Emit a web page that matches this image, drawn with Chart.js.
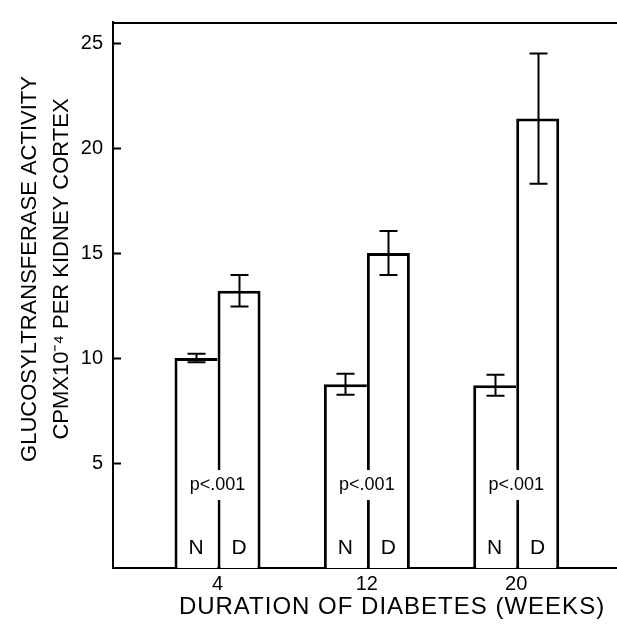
<!DOCTYPE html>
<html><head><meta charset="utf-8">
<script src="https://cdn.jsdelivr.net/npm/chart.js@4.4.1/dist/chart.umd.min.js"></script>
<style>html,body{margin:0;padding:0;background:#fff}#wrap{width:617px;height:630px;position:relative}</style>
</head><body><div id="wrap"><canvas id="c"></canvas></div>
<script>
const weeks = [4, 12, 20];
const normalMeans = [10.0, 8.75, 8.7];
const normalErr = [0.2, 0.5, 0.5];
const diabeticMeans = [13.2, 15.0, 21.4];
const diabeticErr = [0.75, 1.05, 3.1];
const yTicks = [5, 10, 15, 20, 25];
const groupLabels = ['N', 'D'];
const pLabel = 'p<.001';
const pLabelValue = 3.95;
const groupLabelValue = 0.95;
const xTitle = 'DURATION OF DIABETES (WEEKS)';
const yTitle = ['GLUCOSYLTRANSFERASE ACTIVITY', 'CPMX10\u207B\u2074 PER KIDNEY CORTEX'];

const FONT = '"Liberation Sans", Arial, Helvetica, sans-serif';

const decor = {
  id: 'decor',
  afterDatasetsDraw(chart) {
    const {ctx, chartArea: a, scales: {x, y}} = chart;
    ctx.save();
    ctx.strokeStyle = '#000';
    ctx.lineWidth = 2;
    [[0, normalMeans, normalErr], [1, diabeticMeans, diabeticErr]].forEach(([di, m, e]) => {
      chart.getDatasetMeta(di).data.forEach((bar, i) => {
        const yt = y.getPixelForValue(m[i] + e[i]);
        const yb = y.getPixelForValue(m[i] - e[i]);
        const cx = Math.round(bar.x) + 0.5, hw = 9;
        ctx.beginPath();
        ctx.moveTo(cx, yt); ctx.lineTo(cx, yb);
        ctx.moveTo(cx - hw, yt); ctx.lineTo(cx + hw, yt);
        ctx.moveTo(cx - hw, yb); ctx.lineTo(cx + hw, yb);
        ctx.stroke();
      });
    });
    // p-value labels
    ctx.font = '18px ' + FONT;
    ctx.textAlign = 'center';
    ctx.textBaseline = 'middle';
    weeks.forEach(w => {
      const cx = x.getPixelForValue(w), cy = y.getPixelForValue(pLabelValue);
      const tw = ctx.measureText(pLabel).width;
      ctx.fillStyle = '#fff';
      ctx.fillRect(cx - tw / 2 - 2, cy - 15, tw + 4, 30);
      ctx.fillStyle = '#000';
      ctx.fillText(pLabel, cx, cy);
    });
    // N / D labels
    ctx.font = '21px ' + FONT;
    [0, 1].forEach(di => {
      chart.getDatasetMeta(di).data.forEach(bar => {
        ctx.fillText(groupLabels[di], bar.x, y.getPixelForValue(groupLabelValue));
      });
    });
    ctx.restore();
  },
  afterDraw(chart) {
    const {ctx, chartArea: a, scales: {y}} = chart;
    ctx.save();
    ctx.strokeStyle = '#000';
    ctx.lineWidth = 2;
    // top frame line
    ctx.beginPath();
    ctx.moveTo(a.left, a.top + 1);
    ctx.lineTo(a.right, a.top + 1);
    ctx.stroke();
    // inward y ticks
    ctx.beginPath();
    yTicks.forEach(v => {
      const py = Math.round(y.getPixelForValue(v)) + 0.5;
      ctx.moveTo(a.left, py);
      ctx.lineTo(a.left + 8, py);
    });
    ctx.stroke();
    // titles
    ctx.fillStyle = '#000';
    ctx.textAlign = 'center';
    ctx.textBaseline = 'middle';
    ctx.font = '24px ' + FONT;
    try { ctx.letterSpacing = '1px'; } catch (e) {}
    ctx.fillText(xTitle, (a.left + a.right) / 2 + 27, a.bottom + 39);
    try { ctx.letterSpacing = '0px'; } catch (e) {}
    ctx.font = '22px ' + FONT;
    ctx.translate(a.left - 83, (a.top + a.bottom) / 2 - 26);
    ctx.rotate(-Math.PI / 2);
    ctx.fillText(yTitle[0], 0, 0);
    ctx.fillText(yTitle[1], 0, 32);
    ctx.restore();
  }
};

new Chart(document.getElementById('c'), {
  type: 'bar',
  data: {
    datasets: [
      {
        label: 'N',
        data: weeks.map((w, i) => ({x: w, y: normalMeans[i]})),
        backgroundColor: '#fff',
        borderColor: '#000',
        borderWidth: {top: 3, left: 3, right: 0, bottom: 0},
        borderSkipped: false,
        categoryPercentage: 0.576,
        barPercentage: 1
      },
      {
        label: 'D',
        data: weeks.map((w, i) => ({x: w, y: diabeticMeans[i]})),
        backgroundColor: '#fff',
        borderColor: '#000',
        borderWidth: {top: 3, left: 3, right: 3, bottom: 0},
        borderSkipped: false,
        categoryPercentage: 0.576,
        barPercentage: 1
      }
    ]
  },
  options: {
    responsive: true,
    maintainAspectRatio: false,
    animation: false,
    layout: {padding: {top: 12, left: 0, right: 0, bottom: 0}},
    plugins: {legend: {display: false}, tooltip: {enabled: false}},
    scales: {
      x: {
        type: 'linear',
        min: -1.6,
        max: 25.4,
        offset: false,
        afterBuildTicks: s => { s.ticks = weeks.map(v => ({value: v})); },
        afterFit: s => { s.height = 62; },
        grid: {display: false, drawTicks: false},
        border: {display: true, color: '#000', width: 2},
        ticks: {color: '#000', font: {family: FONT, size: 20}, padding: 4, maxRotation: 0, autoSkip: false}
      },
      y: {
        min: 0,
        max: 26,
        afterBuildTicks: s => { s.ticks = yTicks.map(v => ({value: v})); },
        afterFit: s => { s.width = 113; },
        grid: {display: false, drawTicks: false},
        border: {display: true, color: '#000', width: 2},
        ticks: {color: '#000', font: {family: FONT, size: 20}, padding: 10}
      }
    }
  },
  plugins: [decor]
});
</script>
</body></html>
